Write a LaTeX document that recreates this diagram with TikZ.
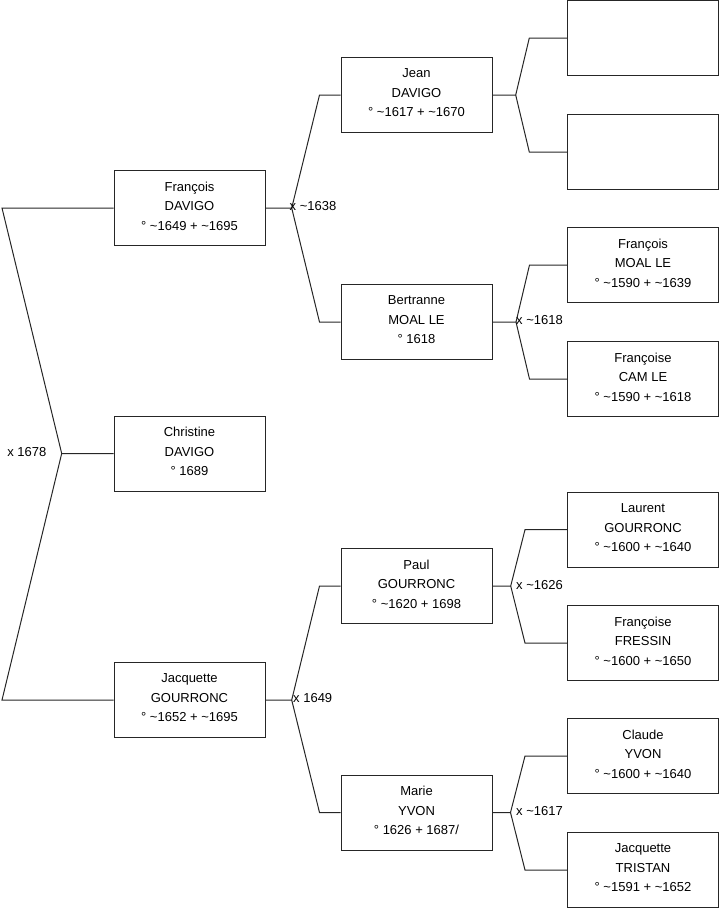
\documentclass[tikz,border=0pt]{standalone}
\usepackage{fontspec}
\setmainfont{Liberation Sans}
\begin{document}
\begin{tikzpicture}[x=1pt,y=-1pt,
  person/.style={draw=black!85, line width=1pt, minimum width=151pt, minimum height=75pt,
    inner sep=0pt, align=center, font=\fontsize{13}{19.5}\selectfont,
    execute at end node={\rule[-4pt]{0pt}{4pt}}},
  lbl/.style={inner sep=0pt, font=\fontsize{13}{15}\selectfont},
  link/.style={draw=black!85, line width=1pt}]
\useasboundingbox (0,0) rectangle (719,908);
% generation 1
\node[person] (fr)  at (189.5,208) {François\\DAVIGO\\° \textasciitilde1649 + \textasciitilde1695};
\node[person] (chr) at (189.5,453.5) {Christine\\DAVIGO\\° 1689};
\node[person] (jac) at (189.5,700) {Jacquette\\GOURRONC\\° \textasciitilde1652 + \textasciitilde1695};
% generation 2
\node[person] (jean)  at (416.5,95) {Jean\\DAVIGO\\° \textasciitilde1617 + \textasciitilde1670};
\node[person] (bert)  at (416.5,322) {Bertranne\\MOAL LE\\° 1618};
\node[person] (paul)  at (416.5,586) {Paul\\GOURRONC\\° \textasciitilde1620 + 1698};
\node[person] (marie) at (416.5,812.5) {Marie\\YVON\\° 1626 + 1687/};
% generation 3
\node[person] (e1)  at (643,38) {};
\node[person] (e2)  at (643,152) {};
\node[person] (fml) at (643,265) {François\\MOAL LE\\° \textasciitilde1590 + \textasciitilde1639};
\node[person] (fcl) at (643,379) {Françoise\\CAM LE\\° \textasciitilde1590 + \textasciitilde1618};
\node[person] (lau) at (643,529.7) {Laurent\\GOURRONC\\° \textasciitilde1600 + \textasciitilde1640};
\node[person] (ffr) at (643,643) {Françoise\\FRESSIN\\° \textasciitilde1600 + \textasciitilde1650};
\node[person] (cla) at (643,756) {Claude\\YVON\\° \textasciitilde1600 + \textasciitilde1640};
\node[person] (jtr) at (643,870) {Jacquette\\TRISTAN\\° \textasciitilde1591 + \textasciitilde1652};
% fork coordinates
\coordinate (r0) at (61.7,453.5);
\coordinate (ra) at (2,208);
\coordinate (rb) at (2,700);
\coordinate (f1) at (291.7,208);
\coordinate (f1a) at (319.5,95);
\coordinate (f1b) at (319.5,322);
\coordinate (f2) at (515.7,95);
\coordinate (f2a) at (529.3,38);
\coordinate (f2b) at (529.3,152);
\coordinate (f3) at (516,322);
\coordinate (f3a) at (529.5,265);
\coordinate (f3b) at (529.5,379);
\coordinate (f4) at (291.7,700);
\coordinate (f4a) at (319.5,586);
\coordinate (f4b) at (319.5,812.5);
\coordinate (f5) at (510.7,586);
\coordinate (f5a) at (525,529.7);
\coordinate (f5b) at (525,643);
\coordinate (f6) at (510.5,812.5);
\coordinate (f6a) at (525,756);
\coordinate (f6b) at (525,870);
% connectors
\draw[link] (fr.west) -- (ra) -- (r0) -- (chr.west);
\draw[link] (r0) -- (rb) -- (jac.west);
\draw[link] (fr.east) -- (f1) -- (f1a) -- (jean.west);
\draw[link] (f1) -- (f1b) -- (bert.west);
\draw[link] (jean.east) -- (f2) -- (f2a) -- (e1.west);
\draw[link] (f2) -- (f2b) -- (e2.west);
\draw[link] (bert.east) -- (f3) -- (f3a) -- (fml.west);
\draw[link] (f3) -- (f3b) -- (fcl.west);
\draw[link] (jac.east) -- (f4) -- (f4a) -- (paul.west);
\draw[link] (f4) -- (f4b) -- (marie.west);
\draw[link] (paul.east) -- (f5) -- (f5a) -- (lau.west);
\draw[link] (f5) -- (f5b) -- (ffr.west);
\draw[link] (marie.east) -- (f6) -- (f6a) -- (cla.west);
\draw[link] (f6) -- (f6b) -- (jtr.west);
% marriage labels
\node[lbl, anchor=east] (m0) at (46.5,452) {x 1678};
\node[lbl, anchor=west] (m1) at (289.5,206.5) {x \textasciitilde1638};
\node[lbl, anchor=west] (m3) at (516,320) {x \textasciitilde1618};
\node[lbl, anchor=west] (m4) at (293,698.5) {x 1649};
\node[lbl, anchor=west] (m5) at (516,585) {x \textasciitilde1626};
\node[lbl, anchor=west] (m6) at (516,811.5) {x \textasciitilde1617};
\end{tikzpicture}
\end{document}
